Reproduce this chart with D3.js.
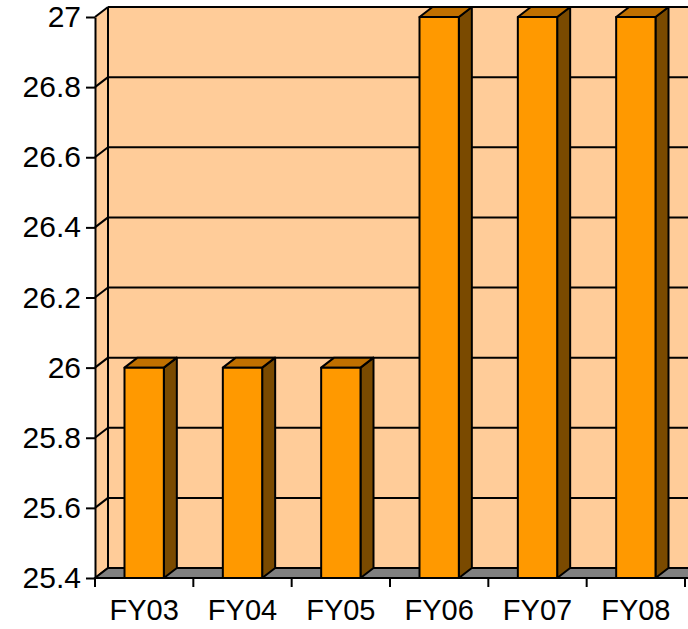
<!DOCTYPE html>
<html>
<head>
<meta charset="utf-8">
<script src="https://cdn.jsdelivr.net/npm/d3@7"></script>
<style>
  body { margin: 0; background: #fff; }
  svg { display: block; overflow: hidden; }
</style>
</head>
<body>
<svg id="chart"></svg>
<script>
// data
var categories = ["FY03", "FY04", "FY05", "FY06", "FY07", "FY08"];
var values = [26, 26, 26, 27, 27, 27];
var yTicks = [25.4, 25.6, 25.8, 26, 26.2, 26.4, 26.6, 26.8, 27];

// dimensions
var width = 688, height = 629;
var plotLeft = 95, plotRight = 685, plotTop = 17, plotBottom = 578;
var dx = 13, dy = 10;   // 3d depth offset

var svg = d3.select("#chart")
    .attr("width", width)
    .attr("height", height);

// scales
var x = d3.scaleBand()
    .domain(categories)
    .range([plotLeft, plotRight])
    .padding(0);

var y = d3.scaleLinear()
    .domain([25.4, 27])
    .range([plotBottom, plotTop]);

var font = "'Liberation Sans', Arial, sans-serif";

// left wall
svg.append("path")
    .attr("d", "M" + plotLeft + "," + y(27) + "L" + (plotLeft + dx) + "," + (y(27) - dy) +
        "L" + (plotLeft + dx) + "," + (y(25.4) - dy) + "L" + plotLeft + "," + y(25.4) + "Z")
    .attr("fill", "#FFCC99");

// back wall
svg.append("rect")
    .attr("x", plotLeft + dx)
    .attr("y", y(27) - dy)
    .attr("width", plotRight - plotLeft + 20)
    .attr("height", y(25.4) - y(27))
    .attr("fill", "#FFCC99");

// gridlines on back wall + left wall diagonals
var grid = svg.append("g")
    .attr("stroke", "#000")
    .attr("stroke-width", 2)
    .attr("fill", "none");

grid.selectAll(".back")
    .data(yTicks)
    .enter().append("line")
    .attr("x1", plotLeft + dx)
    .attr("x2", width + 20)
    .attr("y1", d => y(d) - dy)
    .attr("y2", d => y(d) - dy);

grid.selectAll(".side")
    .data(yTicks)
    .enter().append("line")
    .attr("x1", plotLeft)
    .attr("x2", plotLeft + dx)
    .attr("y1", d => y(d))
    .attr("y2", d => y(d) - dy);

grid.append("line")
    .attr("x1", plotLeft + dx).attr("x2", plotLeft + dx)
    .attr("y1", y(27) - dy).attr("y2", y(25.4) - dy);

// floor
svg.append("path")
    .attr("d", "M" + plotLeft + "," + y(25.4) + "L" + (plotLeft + dx) + "," + (y(25.4) - dy) +
        "L" + (width + 40) + "," + (y(25.4) - dy) + "L" + (width + 40) + "," + y(25.4) + "Z")
    .attr("fill", "#808080")
    .attr("stroke", "#000")
    .attr("stroke-width", 2);

// bars
var bw = x.bandwidth() * 0.4;
var off = x.bandwidth() * 0.3;

var bars = svg.selectAll(".bar")
    .data(categories.map((c, i) => ({ cat: c, val: values[i] })))
    .enter().append("g")
    .attr("stroke", "#000")
    .attr("stroke-width", 2)
    .attr("stroke-linejoin", "round");

// side face
bars.append("path")
    .attr("fill", "#7A4A00")
    .attr("d", function(d) {
        var x1 = x(d.cat) + off + bw;
        return "M" + x1 + "," + y(d.val) + "L" + (x1 + dx) + "," + (y(d.val) - dy) +
            "L" + (x1 + dx) + "," + (y(25.4) - dy) + "L" + x1 + "," + y(25.4) + "Z";
    });

// top face
bars.append("path")
    .attr("fill", "#C07000")
    .attr("d", function(d) {
        var x0 = x(d.cat) + off;
        return "M" + x0 + "," + y(d.val) + "L" + (x0 + dx) + "," + (y(d.val) - dy) +
            "L" + (x0 + bw + dx) + "," + (y(d.val) - dy) + "L" + (x0 + bw) + "," + y(d.val) + "Z";
    });

// front face
bars.append("rect")
    .attr("fill", "#FF9900")
    .attr("x", d => x(d.cat) + off)
    .attr("y", d => y(d.val))
    .attr("width", bw)
    .attr("height", d => y(25.4) - y(d.val));

// y axis
var yAxis = svg.append("g")
    .attr("transform", "translate(" + plotLeft + ",0)")
    .call(d3.axisLeft(y)
        .tickValues(yTicks)
        .tickFormat(d => String(d))
        .tickSize(9)
        .tickSizeOuter(0)
        .tickPadding(5));

yAxis.selectAll("path, line").attr("stroke", "#000").attr("stroke-width", 2);
yAxis.selectAll("text")
    .attr("fill", "#000")
    .style("font-family", font)
    .style("font-size", "30px");

// x axis
var xAxis = svg.append("g")
    .attr("transform", "translate(0," + plotBottom + ")")
    .call(d3.axisBottom(x)
        .tickSize(0)
        .tickSizeOuter(0)
        .tickPadding(21));

xAxis.select(".domain").remove();
xAxis.selectAll("text")
    .attr("fill", "#000")
    .style("font-family", font)
    .style("font-size", "29px");

// category boundary ticks
svg.append("g")
    .selectAll("line")
    .data(categories)
    .enter().append("line")
    .attr("x1", d => x(d) + x.bandwidth())
    .attr("x2", d => x(d) + x.bandwidth())
    .attr("y1", plotBottom)
    .attr("y2", plotBottom + 9)
    .attr("stroke", "#000")
    .attr("stroke-width", 2);

svg.append("line")
    .attr("x1", plotLeft).attr("x2", plotLeft)
    .attr("y1", plotBottom).attr("y2", plotBottom + 9)
    .attr("stroke", "#000")
    .attr("stroke-width", 2);
</script>
</body>
</html>
